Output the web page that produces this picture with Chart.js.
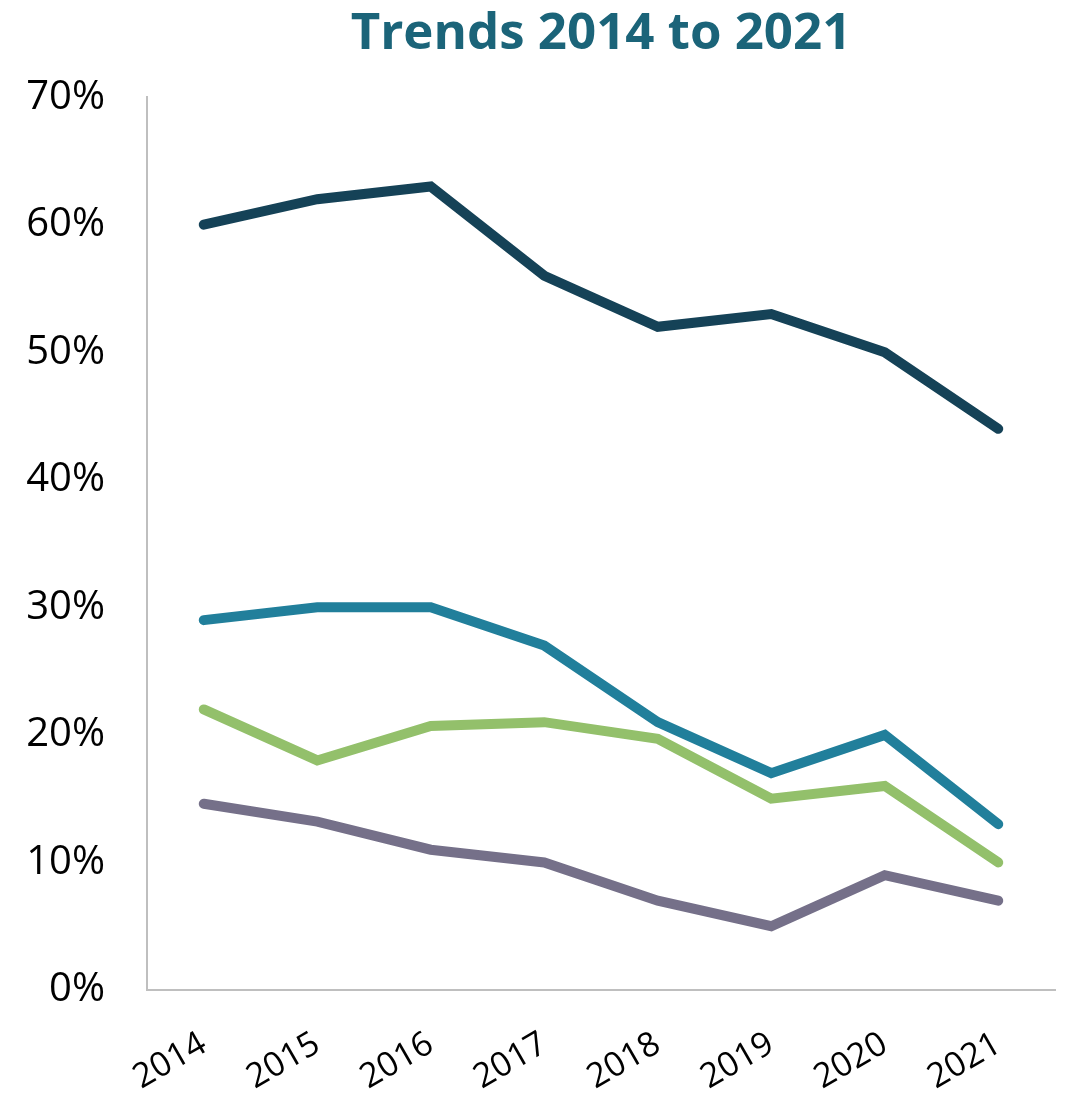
<!DOCTYPE html>
<html>
<head>
<meta charset="utf-8">
<script src="https://cdn.jsdelivr.net/npm/chart.js@4/dist/chart.umd.min.js"></script>
<style>
  html, body { margin: 0; padding: 0; background: #fff; }
  #wrap { width: 1068px; height: 1101px; position: relative; }
</style>
</head>
<body>
<div id="wrap"><canvas id="myChart"></canvas></div>
<script>
// chart data
var years = ['2014', '2015', '2016', '2017', '2018', '2019', '2020', '2021'];
var navySeries = [60, 62, 63, 56, 52, 53, 50, 44];
var tealSeries = [29, 30, 30, 27, 21, 17, 20, 13];
var greenSeries = [22, 18, 20.7, 21, 19.7, 15, 16, 10];
var purpleSeries = [14.6, 13.2, 11, 10, 7, 5, 9, 7];
var yTicks = [0, 10, 20, 30, 40, 50, 60, 70];

var fontName = "'Open Sans', 'Noto Sans', sans-serif";

function lineSet(label, data, color) {
    return {
        label: label,
        data: data,
        borderColor: color,
        backgroundColor: color,
        borderWidth: 10,
        borderCapStyle: 'round',
        borderJoinStyle: 'miter',
        pointRadius: 0,
        tension: 0,
        fill: false
    };
}

var ctx = document.getElementById('myChart').getContext('2d');
var trendChart = new Chart(ctx, {
    type: 'line',
    data: {
        labels: years,
        datasets: [
            lineSet('Series 1', navySeries, '#154257'),
            lineSet('Series 2', tealSeries, '#217f9b'),
            lineSet('Series 3', greenSeries, '#93c06b'),
            lineSet('Series 4', purpleSeries, '#757089')
        ]
    },
    options: {
        responsive: true,
        maintainAspectRatio: false,
        animation: false,
        layout: { padding: { left: 0, right: 13, top: 0, bottom: 0 } },
        plugins: {
            legend: { display: false },
            tooltip: { enabled: false },
            title: {
                display: true,
                fullSize: false,
                text: 'Trends 2014 to 2021',
                color: '#1b6479',
                font: { family: fontName, size: 51, weight: 'bold' },
                padding: { top: 4, bottom: 32 }
            }
        },
        scales: {
            x: {
                offset: true,
                grid: { display: false, drawTicks: false },
                border: { display: true, color: '#bfbfbf', width: 2 },
                ticks: {
                    color: '#000',
                    font: { family: fontName, size: 34 },
                    maxRotation: 30,
                    minRotation: 30,
                    padding: 34
                },
                afterFit: function(scale) { scale.height = 111; }
            },
            y: {
                min: 0,
                max: 70,
                grid: { display: false, drawTicks: false },
                border: { display: true, color: '#bfbfbf', width: 2 },
                afterBuildTicks: function(scale) {
                    scale.ticks = yTicks.map(function(v) { return { value: v }; });
                },
                ticks: {
                    color: '#000',
                    font: { family: fontName, size: 40 },
                    padding: 42,
                    callback: function(v) { return v + '%'; }
                },
                afterFit: function(scale) { scale.width = 147; }
            }
        }
    }
});
</script>
</body>
</html>
